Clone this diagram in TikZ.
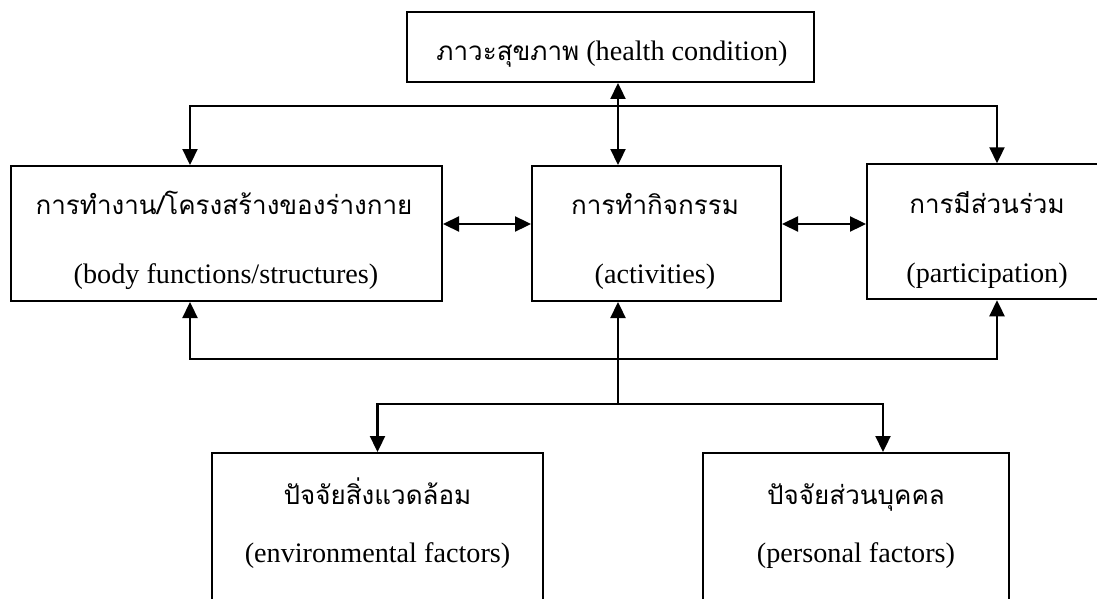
\documentclass[tikz,border=0pt]{standalone}
\usepackage{fontspec}
\setmainfont{Liberation Serif}
\newfontfamily\thaifont[Script=Thai]{Loma}
\usetikzlibrary{arrows.meta}
\begin{document}
\begin{tikzpicture}[x=1pt,y=-1pt,
  box/.style={draw,line width=2pt,inner sep=0pt,rectangle},
  en/.style={anchor=base,inner sep=0pt,font=\fontsize{28.2}{31}\selectfont},
  th/.style={anchor=base,inner sep=0pt,font=\thaifont\fontsize{26}{30}\selectfont},
  conn/.style={line width=2.3pt},
  tip/.tip={Triangle[length=16pt,width=15pt]},
  arr/.style={conn,-tip},
  dbl/.style={conn,tip-tip}]
\useasboundingbox (0,0) rectangle (1097,599);
\clip (0,0) rectangle (1097,599);
\fill[white] (0,0) rectangle (1097,599);
% boxes
\node[box,minimum width=407pt,minimum height=70pt] (top) at (610.5,47) {};
\node[box,minimum width=431pt,minimum height=135pt] (body) at (226.5,233.5) {};
\node[box,minimum width=249pt,minimum height=135pt] (act) at (656.5,233.5) {};
\node[box,minimum width=240pt,minimum height=135pt] (part) at (987,231.75) {};
\node[box,minimum width=331pt,minimum height=187pt] (env) at (377.5,546.5) {};
\node[box,minimum width=306pt,minimum height=187pt] (pers) at (856,546.5) {};
% texts
\node[en] (ttop) at (612,61) {{\thaifont\fontsize{26}{30}\selectfont ภาวะสุขภาพ} (health condition)};
\node[th] (tbody) at (224,214) {การทำงาน/โครงสร้างของร่างกาย};
\node[en] (ebody) at (226,283) {(body functions/structures)};
\node[th] (tact) at (655,214) {การทำกิจกรรม};
\node[en] (eact) at (655,283) {(activities)};
\node[th] (tpart) at (987,213) {การมีส่วนร่วม};
\node[en] (epart) at (987,282) {(participation)};
\node[th] (tenv) at (377.5,504) {ปัจจัยสิ่งแวดล้อม};
\node[en] (eenv) at (377.5,562) {(environmental factors)};
\node[th] (tpers) at (856,504) {ปัจจัยส่วนบุคคล};
\node[en] (epers) at (856,562) {(personal factors)};
% coordinates
\coordinate (c) at (618,0);
\coordinate (tl) at (190,106);
\coordinate (tr) at (997,106);
\coordinate (bl) at (190,359);
\coordinate (br) at (997,359);
\coordinate (m) at (618,404);
\coordinate (el) at (377.5,404);
\coordinate (er) at (883,404);
\coordinate (h) at (0,224);
% connectors
\draw[dbl] (top.south -| c) -- (act.north -| c);
\draw[dbl] (tl |- body.north) -- (tl) -- (tr) -- (tr |- part.north);
\draw[dbl] (body.east |- h) -- (act.west |- h);
\draw[dbl] (act.east |- h) -- (part.west |- h);
\draw[dbl] (bl |- body.south) -- (bl) -- (br) -- (br |- part.south);
\draw[arr] (m) -- (m |- act.south);
\draw[dbl] (el |- env.north) -- (el) -- (er) -- (er |- pers.north);
\end{tikzpicture}
\end{document}
